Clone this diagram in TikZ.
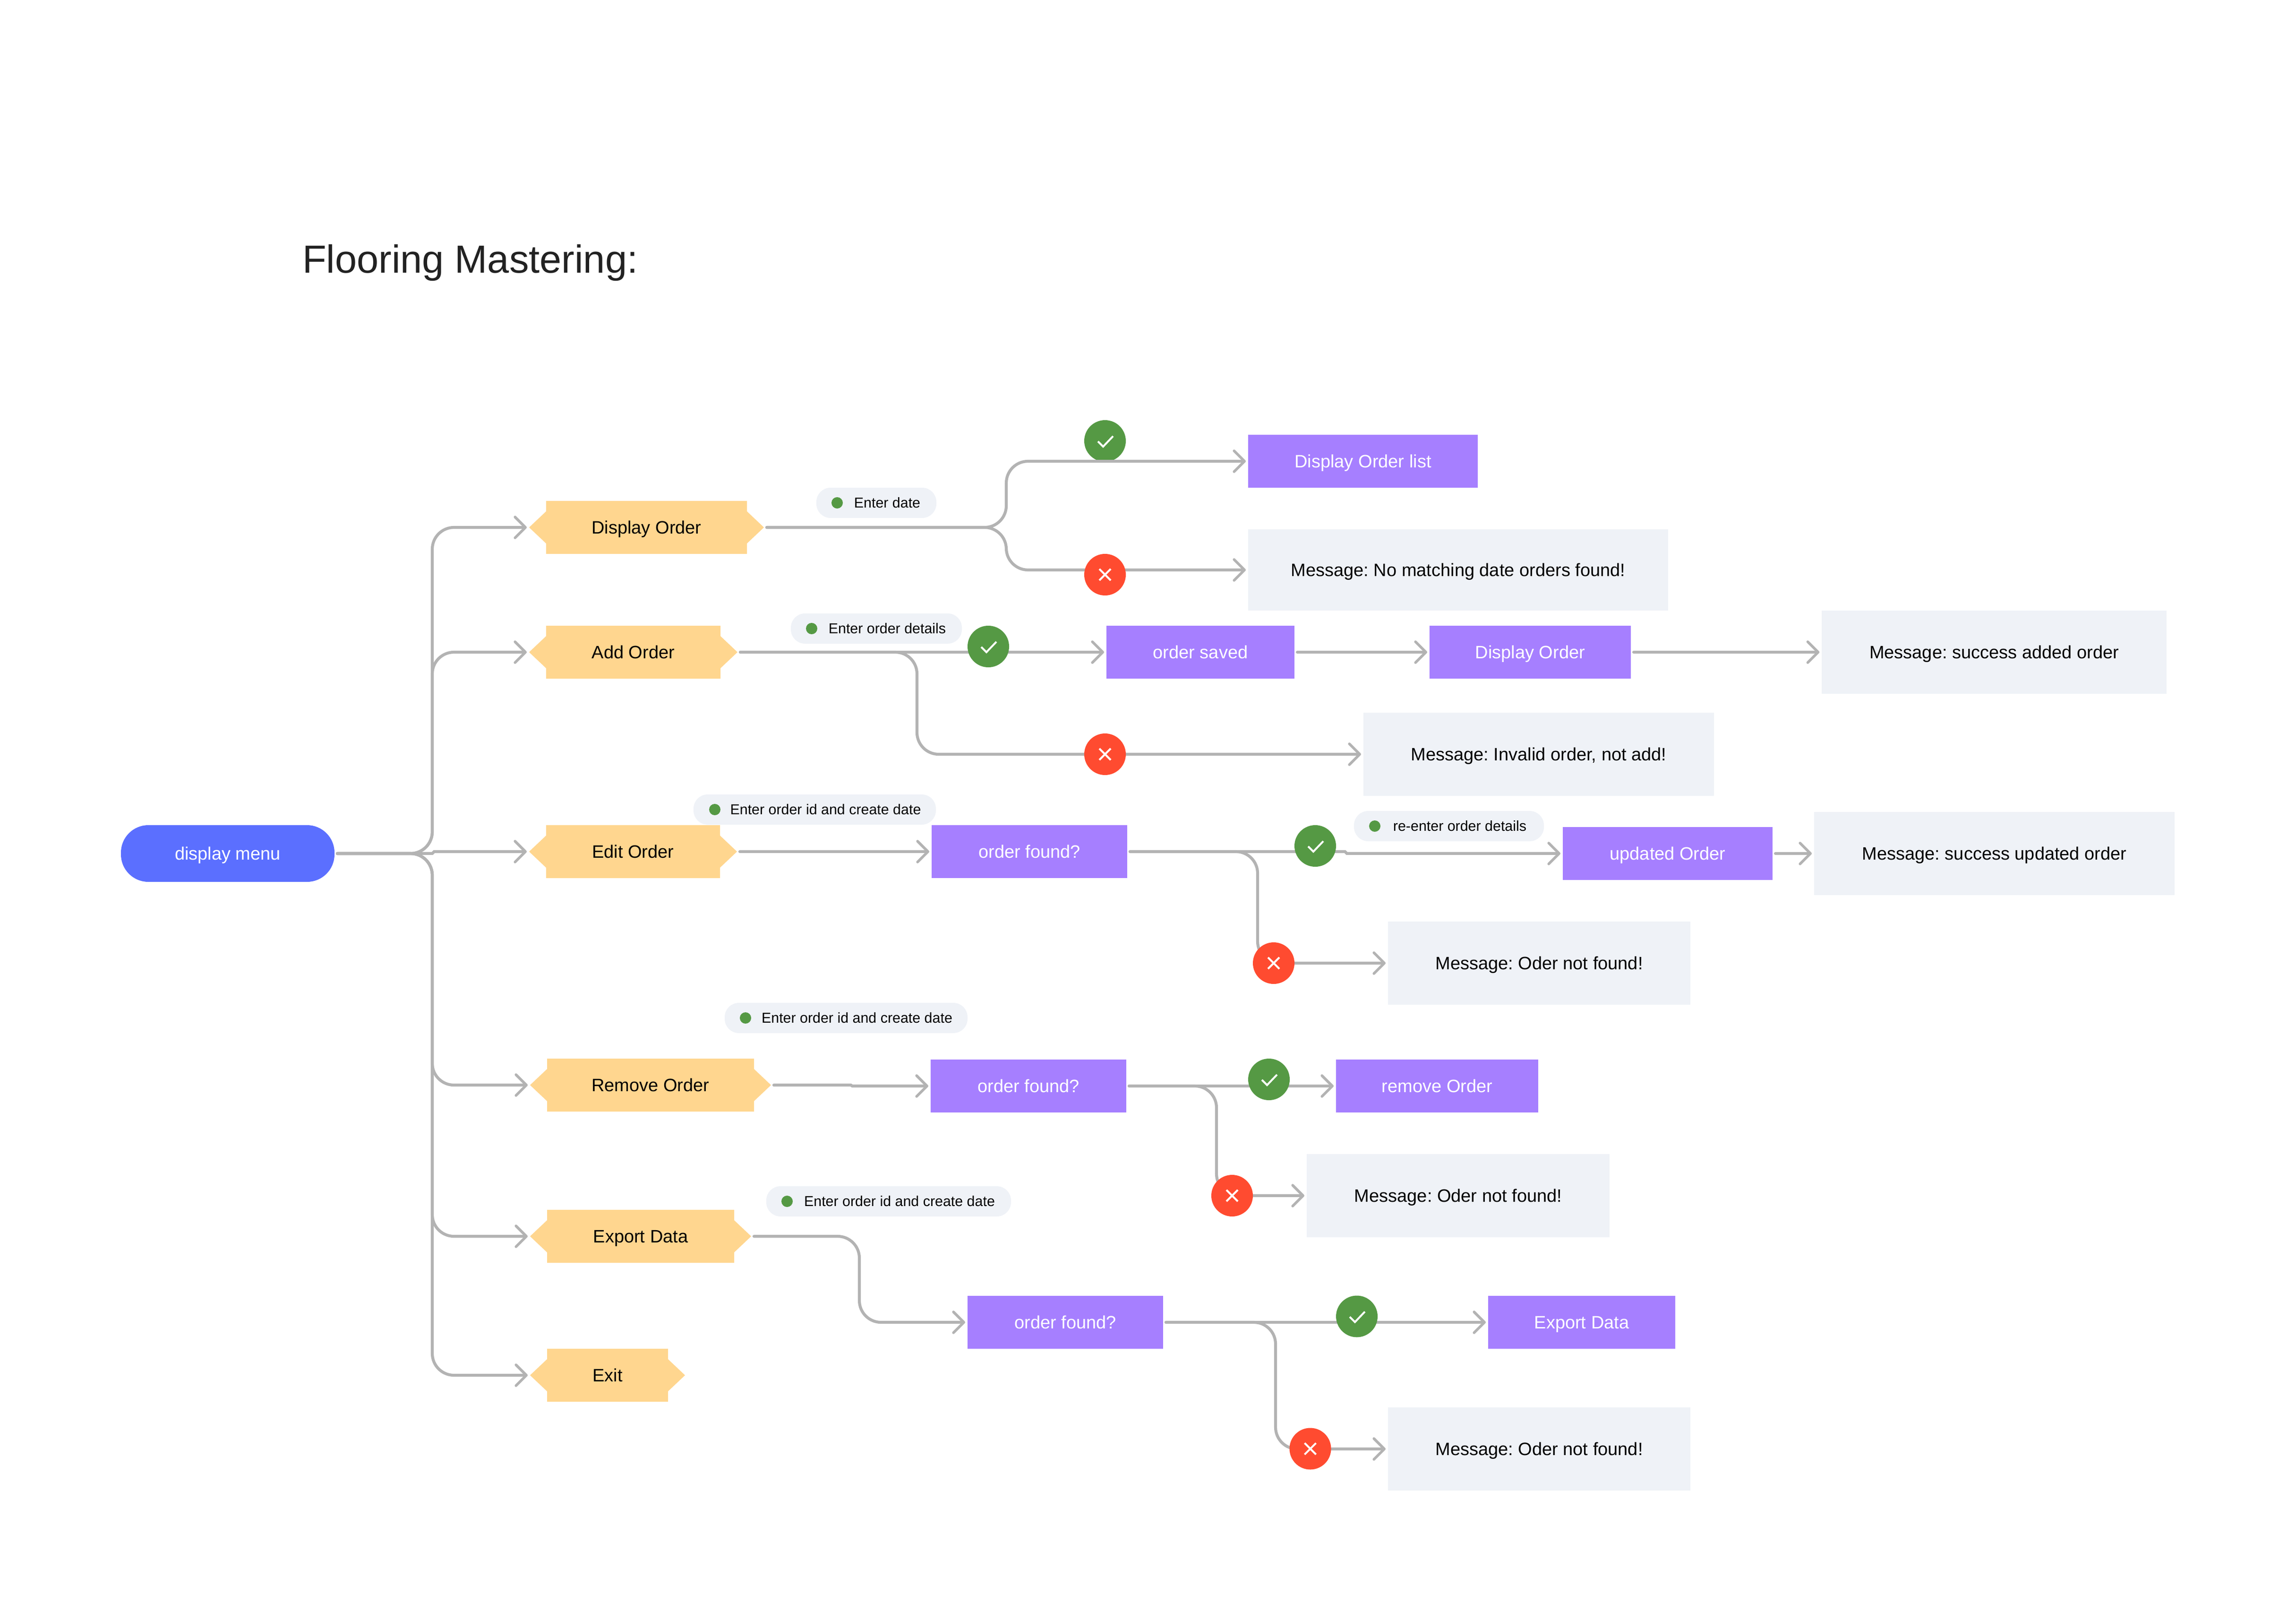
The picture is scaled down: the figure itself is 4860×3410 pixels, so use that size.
\documentclass[tikz,border=0pt]{standalone}
\usepackage{fontspec}
\setmainfont{Liberation Sans}
\usetikzlibrary{arrows.meta}
\pgfdeclarelayer{bg}
\pgfsetlayers{bg,main}
\AtBeginDocument{\frenchspacing}
\definecolor{linegray}{HTML}{B3B3B3}
\definecolor{hexyellow}{HTML}{FFD68F}
\definecolor{boxpurple}{HTML}{A67FFF}
\definecolor{menublue}{HTML}{5B6FFF}
\definecolor{msggray}{HTML}{EFF2F7}
\definecolor{okgreen}{HTML}{559944}
\definecolor{badred}{HTML}{FF4B30}
\definecolor{titleink}{HTML}{222222}
\tikzset{
  every node/.style={inner sep=0pt,outer sep=0pt},
  lbl/.style={font=\fontsize{38}{44}\selectfont,text height=27.5pt,text depth=0pt},
  menubox/.style={lbl,fill=menublue,text=white,rounded corners=58pt,minimum width=452pt,minimum height=120pt},
  hexbox/.style={lbl,text=black,minimum height=112pt,
    path picture={\fill[hexyellow]
      (path picture bounding box.west)
      -- ([xshift=36pt,yshift=34pt]path picture bounding box.west)
      -- ([xshift=36pt]path picture bounding box.north west)
      -- ([xshift=-36pt]path picture bounding box.north east)
      -- ([xshift=-36pt,yshift=34pt]path picture bounding box.east)
      -- (path picture bounding box.east)
      -- ([xshift=-36pt,yshift=-34pt]path picture bounding box.east)
      -- ([xshift=-36pt]path picture bounding box.south east)
      -- ([xshift=36pt]path picture bounding box.south west)
      -- ([xshift=36pt,yshift=-34pt]path picture bounding box.west)
      -- cycle;}},
  actbox/.style={lbl,fill=boxpurple,text=white,minimum height=112pt},
  msgbox/.style={lbl,fill=msggray,text=black,minimum height=176pt},
  pillbox/.style={font=\fontsize{30.4}{34}\selectfont,text height=21.7pt,text depth=0pt,fill=msggray,text=black,rounded corners=30pt,minimum height=64pt},
  pilldot/.style={circle,fill=okgreen,minimum size=24pt},
  okmark/.style={circle,fill=okgreen,minimum size=88pt,
    path picture={\draw[white,line width=4pt]
      ([shift={(-15,1)}]path picture bounding box.center)
      -- ([shift={(-4,12)}]path picture bounding box.center)
      -- ([shift={(17,-10)}]path picture bounding box.center);}},
  badmark/.style={circle,fill=badred,minimum size=88pt,
    path picture={\draw[white,line width=4pt]
      ([shift={(-12,-12)}]path picture bounding box.center)
      -- ([shift={(12,12)}]path picture bounding box.center)
      ([shift={(-12,12)}]path picture bounding box.center)
      -- ([shift={(12,-12)}]path picture bounding box.center);}},
  conn/.style={draw=linegray,line width=6.2pt,line cap=round,
    -{Straight Barb[length=22pt,width=44pt,line width=5.6pt,round]},
    shorten <=6pt,shorten >=5pt},
  curved/.style={conn,rounded corners=46pt},
}
\begin{document}
\begin{tikzpicture}[x=1pt,y=-1pt]
\useasboundingbox (0,0) rectangle (4860,3410);
\node[font=\fontsize{83}{90}\selectfont,text=titleink,anchor=base west] (title) at (640,577) {Flooring Mastering:};

\node[menubox] (menu) at (482,1806) {display menu};

\node[hexbox,minimum width=497pt] (disp) at (1368.5,1116) {Display Order};
\node[hexbox,minimum width=441pt] (add) at (1340.5,1380) {Add Order};
\node[hexbox,minimum width=440pt] (edit) at (1340,1802) {Edit Order};
\node[hexbox,minimum width=510pt] (rem) at (1377,2296) {Remove Order};
\node[hexbox,minimum width=468pt] (exp) at (1356,2616) {Export Data};
\node[hexbox,minimum width=328pt] (exit) at (1286,2910) {Exit};

\node[actbox,minimum width=486pt] (list) at (2885,976) {Display Order list};
\node[actbox,minimum width=398pt] (saved) at (2541,1380) {order saved};
\node[actbox,minimum width=426pt] (shown) at (3239,1380) {Display Order};
\node[actbox,minimum width=414pt] (foundA) at (2179,1802) {order found?};
\node[actbox,minimum width=444pt] (updated) at (3530,1806) {updated Order};
\node[actbox,minimum width=414pt] (foundB) at (2177,2298) {order found?};
\node[actbox,minimum width=428pt] (removed) at (3042,2298) {remove Order};
\node[actbox,minimum width=414pt] (foundC) at (2255,2798) {order found?};
\node[actbox,minimum width=396pt] (exported) at (3348,2798) {Export Data};

\node[msgbox,minimum width=889pt,minimum height=172pt] (msgA) at (3086.5,1206) {Message: No matching date orders found!};
\node[msgbox,minimum width=729.5pt] (msgB) at (4221,1380) {Message: success added order};
\node[msgbox,minimum width=742pt] (msgC) at (3257,1596) {Message: Invalid order, not add!};
\node[msgbox,minimum width=763pt] (msgD) at (4221.5,1806) {Message: success updated order};
\node[msgbox,minimum width=640pt] (msgE) at (3258,2038) {Message: Oder not found!};
\node[msgbox,minimum width=641pt] (msgF) at (3086.5,2530) {Message: Oder not found!};
\node[msgbox,minimum width=640pt] (msgG) at (3258,3066) {Message: Oder not found!};

\node[pillbox,minimum width=254pt] (pA) at (1855,1064) {\hspace*{46pt}Enter date};
\node[pillbox,minimum width=362pt] (pB) at (1855,1330) {\hspace*{46pt}Enter order details};
\node[pillbox,minimum width=513pt] (pC) at (1724.5,1713) {\hspace*{46pt}Enter order id and create date};
\node[pillbox,minimum width=402pt] (pD) at (3067,1748) {\hspace*{46pt}re-enter order details};
\node[pillbox,minimum width=514pt] (pE) at (1791,2154) {\hspace*{46pt}Enter order id and create date};
\node[pillbox,minimum width=518pt] (pF) at (1881,2542) {\hspace*{46pt}Enter order id and create date};
\node[pilldot] (dA) at (1772,1064) {};
\node[pilldot] (dB) at (1718,1330) {};
\node[pilldot] (dC) at (1513,1713) {};
\node[pilldot] (dD) at (2910,1748) {};
\node[pilldot] (dE) at (1578,2154) {};
\node[pilldot] (dF) at (1666,2542) {};

\node[okmark] (okA) at (2339,933) {};
\node[badmark] (badA) at (2339,1216) {};
\node[okmark] (okB) at (2092,1368) {};
\node[badmark] (badB) at (2339,1596) {};
\node[okmark] (okC) at (2784,1790) {};
\node[badmark] (badC) at (2696,2038) {};
\node[okmark] (okD) at (2686,2284) {};
\node[badmark] (badD) at (2608,2530) {};
\node[okmark] (okE) at (2872,2785.5) {};
\node[badmark] (badE) at (2773.5,3065.5) {};

\coordinate (trunk) at (915,1806);
\coordinate (stepA) at (919,1802);
\coordinate (forkA) at (2130,1116);
\coordinate (forkB) at (1941,1380);
\coordinate (forkC) at (2662,1802);
\coordinate (jogC1) at (2847,1802);
\coordinate (jogC2) at (2851,1806);
\coordinate (jogD1) at (1801,2296);
\coordinate (jogD2) at (1804,2298);
\coordinate (forkD) at (2575,2298);
\coordinate (forkE) at (1819,2616);
\coordinate (forkF) at (2700,2798);

% this line lies over the foot of the green mark
\draw[curved] (disp.east) -- (forkA) |- (list.west);

\begin{pgfonlayer}{bg}
\draw[curved] (menu.east) -- (trunk) |- (disp.west);
\draw[curved] (menu.east) -- (trunk) |- (add.west);
\draw[conn] (menu.east) -- (trunk) -- (stepA) -- (edit.west);
\draw[curved] (menu.east) -- (trunk) |- (rem.west);
\draw[curved] (menu.east) -- (trunk) |- (exp.west);
\draw[curved] (menu.east) -- (trunk) |- (exit.west);

\draw[curved] (disp.east) -- (forkA) |- (msgA.west);

\draw[conn] (add.east) -- (saved.west);
\draw[conn] (saved.east) -- (shown.west);
\draw[conn] (shown.east) -- (msgB.west);
\draw[curved] (add.east) -- (forkB) |- (msgC.west);

\draw[conn] (edit.east) -- (foundA.west);
\draw[conn] (foundA.east) -- (jogC1) -- (jogC2) -- (updated.west);
\draw[conn] (updated.east) -- (msgD.west);
\draw[curved] (foundA.east) -- (forkC) |- (msgE.west);

\draw[conn] (rem.east) -- (jogD1) -- (jogD2) -- (foundB.west);
\draw[conn] (foundB.east) -- (removed.west);
\draw[curved] (foundB.east) -- (forkD) |- (msgF.west);

\draw[curved] (exp.east) -- (forkE) |- (foundC.west);
\draw[conn] (foundC.east) -- (exported.west);
\draw[curved] (foundC.east) -- (forkF) |- (msgG.west);
\end{pgfonlayer}
\end{tikzpicture}
\end{document}
